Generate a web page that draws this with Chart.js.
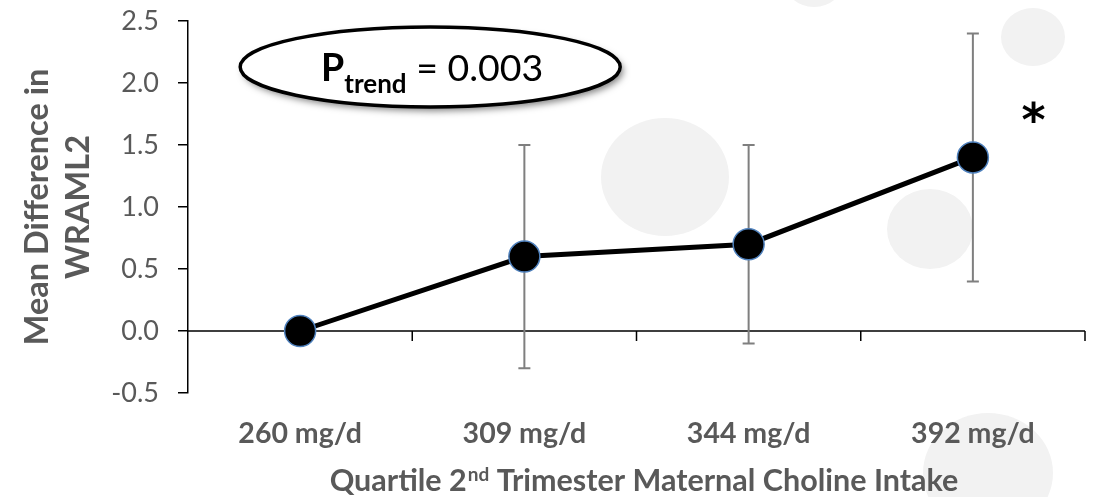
<!DOCTYPE html>
<html><head><meta charset="utf-8">
<script src="https://cdn.jsdelivr.net/npm/chart.js@4.4.1/dist/chart.umd.min.js"></script>
<style>html,body{margin:0;padding:0;background:#fff;}#wrap{width:1094px;height:497px;}</style>
</head><body><div id="wrap"><canvas id="c" width="1094" height="497"></canvas></div>
<script>
// ---- data ----
const categories = ['260 mg/d', '309 mg/d', '344 mg/d', '392 mg/d'];
const meanDiff   = [0.0, 0.6, 0.7, 1.4];
const ciLow      = [null, -0.3, -0.1, 0.4];
const ciHigh     = [null, 1.5, 1.5, 2.4];
const yTicks     = [-0.5, 0.0, 0.5, 1.0, 1.5, 2.0, 2.5];
const significant = [false, false, false, true];
const pTrendText = '0.003';
const xTitleParts = ['Quartile 2', 'nd', ' Trimester Maternal Choline Intake'];
const yTitleLines = ['Mean Difference in', 'WRAML2'];

// decorative background discs (slide decoration)
const discs = [
  {x: 665, y: 177, rx: 64, ry: 59},
  {x: 930, y: 229, rx: 43, ry: 40},
  {x: 1033, y: 37, rx: 32, ry: 29},
  {x: 814, y: -22, rx: 31, ry: 29},
  {x: 988, y: 473, rx: 65, ry: 60}
];

const FONT = 'Lato';
const GREY = '#595959';

const bgDiscs = {
  id: 'bgDiscs',
  beforeDraw(chart) {
    const ctx = chart.ctx;
    ctx.save();
    ctx.fillStyle = '#f2f2f2';
    discs.forEach(d => { ctx.beginPath(); ctx.ellipse(d.x, d.y, d.rx, d.ry, 0, 0, Math.PI * 2); ctx.fill(); });
    ctx.restore();
  }
};

// horizontal axis line at y = 0 with category-boundary tick marks
const zeroAxis = {
  id: 'zeroAxis',
  beforeDatasetsDraw(chart) {
    const {ctx, scales: {x, y}, chartArea} = chart;
    const y0 = y.getPixelForValue(0);
    ctx.save();
    ctx.strokeStyle = '#000';
    ctx.lineWidth = 1.5;
    ctx.beginPath();
    ctx.moveTo(chartArea.left, y0); ctx.lineTo(chartArea.right, y0);
    for (let i = 1; i <= categories.length; i++) {
      const bx = i < categories.length ? (x.getPixelForValue(i - 1) + x.getPixelForValue(i)) / 2 : chartArea.right;
      ctx.moveTo(bx, y0); ctx.lineTo(bx, y0 + 10);
    }
    ctx.stroke();
    ctx.restore();
  }
};

const errorBars = {
  id: 'errorBars',
  beforeDatasetsDraw(chart) {
    const {ctx, scales: {x, y}} = chart;
    ctx.save();
    ctx.strokeStyle = '#7f7f7f';
    ctx.lineWidth = 2;
    categories.forEach((c, i) => {
      if (ciLow[i] == null) return;
      const px = x.getPixelForValue(i);
      const y1 = y.getPixelForValue(ciLow[i]);
      const y2 = y.getPixelForValue(ciHigh[i]);
      ctx.beginPath();
      ctx.moveTo(px, y1); ctx.lineTo(px, y2);
      ctx.moveTo(px - 6, y1); ctx.lineTo(px + 6, y1);
      ctx.moveTo(px - 6, y2); ctx.lineTo(px + 6, y2);
      ctx.stroke();
    });
    ctx.restore();
  }
};

const annotations = {
  id: 'annotations',
  afterDraw(chart) {
    const {ctx, scales: {x, y}, chartArea} = chart;
    ctx.save();
    // x axis title with superscript
    const mainF = 'bold 30.5px ' + FONT, supF = 'bold 19px ' + FONT;
    ctx.font = mainF; const w0 = ctx.measureText(xTitleParts[0]).width, w2 = ctx.measureText(xTitleParts[2]).width;
    ctx.font = supF; const w1 = ctx.measureText(xTitleParts[1]).width;
    let sx = (chartArea.left + chartArea.right) / 2 + 7 - (w0 + w1 + w2) / 2;
    const base = chart.height - 6;
    ctx.fillStyle = GREY; ctx.textBaseline = 'alphabetic'; ctx.textAlign = 'left';
    ctx.font = mainF; ctx.fillText(xTitleParts[0], sx, base);
    ctx.font = supF; ctx.fillText(xTitleParts[1], sx + w0 + 1, base - 10);
    ctx.font = mainF; ctx.fillText(xTitleParts[2], sx + w0 + w1 + 1, base);

    // P-trend callout
    const step = x.getPixelForValue(1) - x.getPixelForValue(0);
    const cx = x.getPixelForValue(0) + step * 0.58;
    const cy = y.getPixelForValue(2.13);
    const rx = 190, ry = 40;
    ctx.save();
    ctx.shadowColor = 'rgba(0,0,0,0.5)'; ctx.shadowBlur = 7; ctx.shadowOffsetX = 3; ctx.shadowOffsetY = 4;
    ctx.beginPath(); ctx.ellipse(cx, cy, rx, ry, 0, 0, Math.PI * 2);
    ctx.fillStyle = '#fff'; ctx.fill();
    ctx.restore();
    ctx.beginPath(); ctx.ellipse(cx, cy, rx, ry, 0, 0, Math.PI * 2);
    ctx.lineWidth = 3.5; ctx.strokeStyle = '#000'; ctx.stroke();
    const pF = 'bold 37.5px ' + FONT, subF = 'bold 26px ' + FONT, eqF = '37.5px ' + FONT;
    const rest = ' = ' + pTrendText;
    ctx.font = pF; const pw = ctx.measureText('P').width;
    ctx.font = subF; const sw = ctx.measureText('trend').width;
    ctx.font = eqF; const ew = ctx.measureText(rest).width;
    let tx = cx + 2 - (pw + sw + ew) / 2;
    const tb = cy + 14;
    ctx.fillStyle = '#000';
    ctx.font = pF; ctx.fillText('P', tx, tb);
    ctx.font = subF; ctx.fillText('trend', tx + pw, tb + 12);
    ctx.font = eqF; ctx.fillText(rest, tx + pw + sw, tb);

    // significance marker
    significant.forEach((s, i) => {
      if (!s) return;
      ctx.font = 'bold 46px "DejaVu Sans"';
      const m = ctx.measureText('*');
      const ax = x.getPixelForValue(i) + step * 0.27;
      const ay = y.getPixelForValue(1.77);
      ctx.textAlign = 'center'; ctx.textBaseline = 'alphabetic';
      ctx.fillText('*', ax, ay + (m.actualBoundingBoxAscent - m.actualBoundingBoxDescent) / 2);
    });
    ctx.restore();
  }
};

new Chart(document.getElementById('c'), {
  type: 'line',
  data: {
    labels: categories,
    datasets: [{
      data: meanDiff,
      borderColor: '#000', borderWidth: 5,
      pointRadius: 15.5, pointHoverRadius: 15.5,
      pointBackgroundColor: '#000', pointBorderColor: '#4f81bd', pointBorderWidth: 1.5,
      tension: 0, clip: false
    }]
  },
  options: {
    responsive: false, animation: false, devicePixelRatio: 1,
    layout: {autoPadding: false, padding: {top: 21, right: 9, left: 0, bottom: 0}},
    plugins: {legend: {display: false}, tooltip: {enabled: false}},
    events: [],
    scales: {
      x: {
        type: 'category', position: 'bottom', offset: true,
        grid: {display: false, drawTicks: false, tickLength: 0},
        border: {display: false},
        ticks: {font: {family: FONT, size: 28.5, weight: 'bold'}, color: GREY, padding: 24, maxRotation: 0, autoSkip: false},
        afterFit: s => { s.height = 104; s.paddingLeft = 0; s.paddingRight = 0; }
      },
      y: {
        type: 'linear', min: -0.5, max: 2.5,
        afterBuildTicks: s => { s.ticks = yTicks.map(v => ({value: v})); },
        grid: {drawOnChartArea: false, drawTicks: true, tickLength: 10, color: '#000', lineWidth: 1.5},
        border: {display: true, color: '#000', width: 1.5},
        ticks: {font: {family: FONT, size: 27}, color: GREY, padding: 19, callback: v => Number(v).toFixed(1)},
        title: {display: true, text: yTitleLines, color: GREY, font: {family: FONT, size: 32.5, weight: 'bold', lineHeight: 1.26}, padding: {top: 17, bottom: 0}},
        afterFit: s => { s.width = 188; s.paddingTop = 0; s.paddingBottom = 0; }
      }
    }
  },
  plugins: [bgDiscs, zeroAxis, errorBars, annotations]
});
</script>
</body></html>
